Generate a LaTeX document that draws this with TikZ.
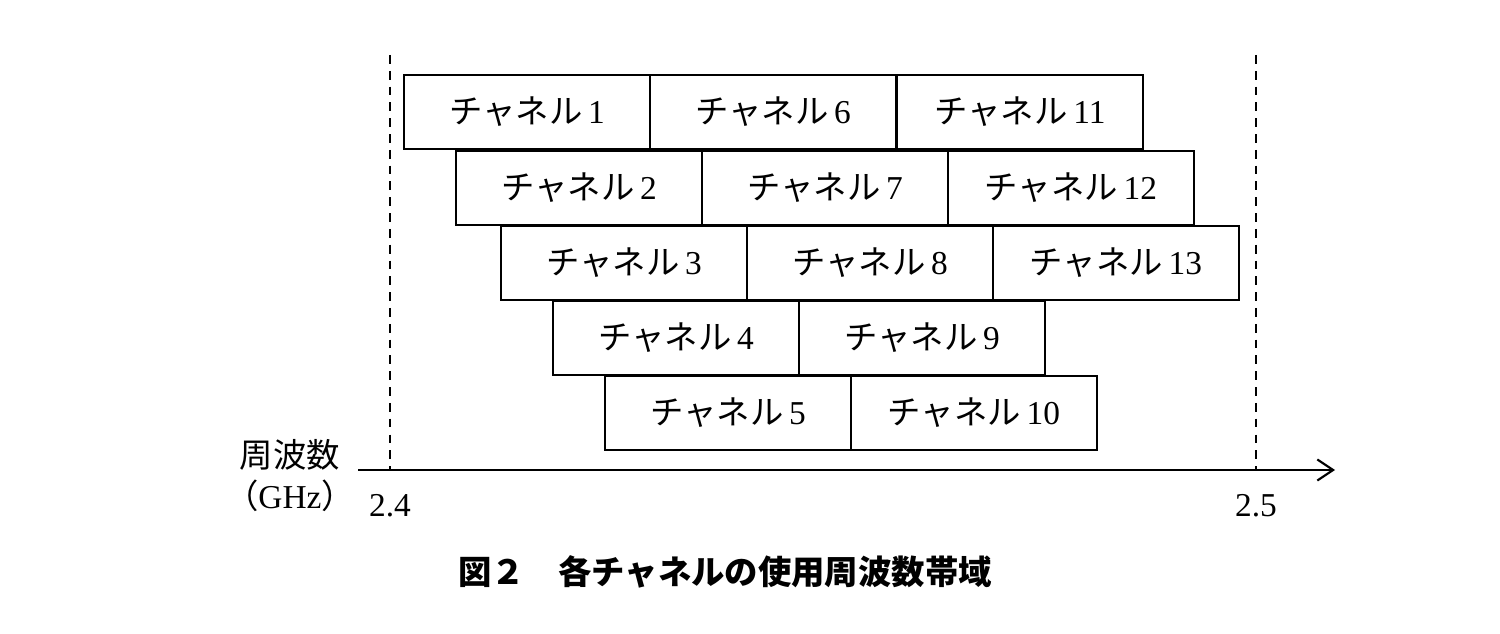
\documentclass[tikz,border=0pt]{standalone}
\usepackage{fontspec}
\setmainfont{Liberation Serif}
\newfontfamily\jp{Noto Sans CJK JP}
\usetikzlibrary{arrows.meta}
\begin{document}
\begin{tikzpicture}[x=0.02cm,y=-0.02cm,
 ch/.style={draw,line width=1.2pt,minimum width=246*0.02cm,minimum height=74*0.02cm,inner sep=0pt,font=\fontsize{19}{21}\selectfont},
 lbl/.style={font=\fontsize{19}{21}\selectfont}]
\useasboundingbox (0,0) rectangle (1500,634);
\newcommand\chan[3]{\node[ch] (c#3) at (#1,#2) {{\jp チャネル}\,#3};}
\chan{527}{112}{1}\chan{773}{112}{6}\chan{1020}{112}{11}
\chan{579}{188}{2}\chan{825}{188}{7}\chan{1071}{188}{12}
\chan{624}{263}{3}\chan{870}{263}{8}\chan{1116}{263}{13}
\chan{676}{338}{4}\chan{922}{338}{9}
\chan{728}{413}{5}\chan{974}{413}{10}
\coordinate (a0) at (358,470); \coordinate (a1) at (1335,470);
\draw[line width=1.2pt,-{Straight Barb[length=9pt,width=12pt]}] (a0) -- (a1);
\coordinate (d1t) at (390,55); \coordinate (d1b) at (390,470);
\coordinate (d2t) at (1256,55); \coordinate (d2b) at (1256,470);
\draw[dashed,line width=1pt,dash pattern=on 5pt off 4pt] (d1t) -- (d1b) (d2t) -- (d2b);
\node[lbl] (x1) at (390,506) {2.4};
\node[lbl] (x2) at (1256,506) {2.5};
\node[lbl] (u1) at (290,455) {\jp 周波数};
\node[lbl] (u2) at (290,496) {{\jp （}GHz{\jp ）}};
\node[font=\fontsize{19}{22}\selectfont\jp\bfseries] (cap) at (725,572) {図２\quad 各チャネルの使用周波数帯域};
\end{tikzpicture}
\end{document}
